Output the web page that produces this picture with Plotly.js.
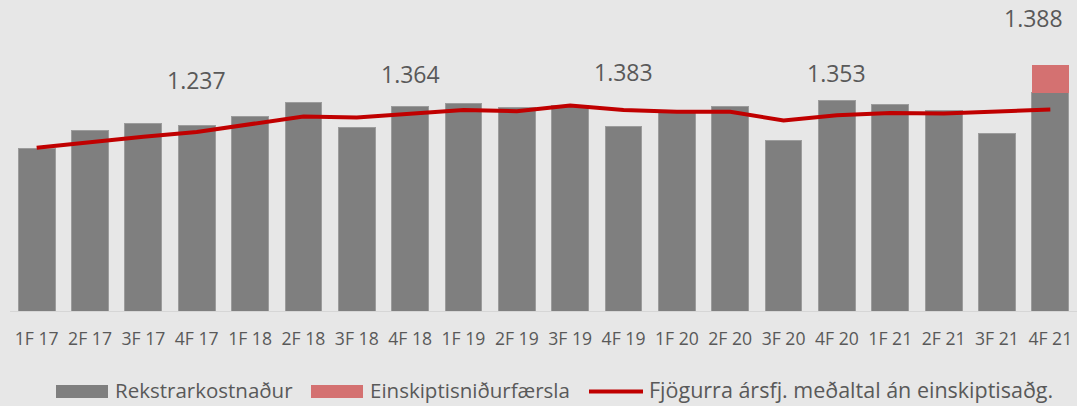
<!DOCTYPE html>
<html>
<head>
<meta charset="utf-8">
<script src="https://cdn.plot.ly/plotly-3.0.1.min.js"></script>
<style>
  html, body { margin: 0; padding: 0; background: #e7e7e7; }
  #chart { width: 1077px; height: 406px; }
</style>
</head>
<body>
<div id="chart"></div>
<script>
// ---- data ----
const categories = ['1F 17','2F 17','3F 17','4F 17','1F 18','2F 18','3F 18','4F 18','1F 19','2F 19',
                    '3F 19','4F 19','1F 20','2F 20','3F 20','4F 20','1F 21','2F 21','3F 21','4F 21'];
const rekstrarkostnadur = [280, 312, 324, 321, 335, 360, 316, 353, 358, 352,
                           354, 319, 343, 353, 294, 363, 357, 347, 307, 377];
const einskiptisnidurfaersla = [null, null, null, null, null, null, null, null, null, null,
                                null, null, null, null, null, null, null, null, null, 48];
const medaltal = [282, 292, 301, 309, 323, 336, 334, 341, 347, 345,
                  355, 347, 344, 344, 329, 338, 342, 341, 344, 348];
const seriesNames = ['Rekstrarkostnaður', 'Einskiptisniðurfærsla', 'Fjögurra ársfj. meðaltal án einskiptisaðg.'];
const annualLabels = ['1.237', '1.364', '1.383', '1.353', '1.388'];
const annualAt = ['4F 17', '4F 18', '4F 19', '4F 20', '4F 21'];

// ---- styles ----
const FONT = '"Open Sans", "Noto Sans", sans-serif';
const TXT = '#595959';
const GREY = '#7f7f7f';
const PINK = '#d47171';
const RED = '#c00000';

const traces = [
  { type: 'bar', x: categories, y: rekstrarkostnadur, name: seriesNames[0],
    marker: { color: GREY, line: { color: '#9c9c9c', width: 1 } }, hoverinfo: 'x+y' },
  { type: 'bar', x: categories, y: einskiptisnidurfaersla, name: seriesNames[1],
    marker: { color: PINK, line: { width: 0 } }, hoverinfo: 'x+y' },
  { type: 'scatter', mode: 'lines', x: categories, y: medaltal, name: seriesNames[2],
    line: { color: RED, width: 4 }, hoverinfo: 'x+y' }
];

// annual total labels (paper y, pixel shift per label)
const annY = [0.743, 0.762, 0.768, 0.765, 0.942];
const annShift = [0, 0, 0, 0, -17];
const annotations = annualLabels.map((t, i) => ({
  text: t, x: categories.indexOf(annualAt[i]), xref: 'x', y: annY[i], yref: 'paper',
  xshift: annShift[i], xanchor: 'center', yanchor: 'middle', showarrow: false,
  font: { family: FONT, size: 23, color: TXT }
}));

// custom legend (plot area spans px 10..1077 horizontally, 0..311 vertically)
const PX = px => (px - 10) / 1067;
const PY = py => (311 - py) / 311;
const shapes = [
  { type: 'rect', xref: 'paper', yref: 'paper', x0: PX(56), x1: PX(108), y0: PY(385), y1: PY(398),
    fillcolor: GREY, line: { width: 0 } },
  { type: 'rect', xref: 'paper', yref: 'paper', x0: PX(311), x1: PX(363), y0: PY(385), y1: PY(398),
    fillcolor: PINK, line: { width: 0 } },
  { type: 'line', xref: 'paper', yref: 'paper', x0: PX(589), x1: PX(643), y0: PY(391.5), y1: PY(391.5),
    line: { color: RED, width: 4 } }
];
const legX = [114, 369, 648];
const legSize = [20.5, 20.5, 21.5];
legX.forEach((px, i) => annotations.push({
  text: seriesNames[i], xref: 'paper', yref: 'paper', x: PX(px), y: PY(390),
  xanchor: 'left', yanchor: 'middle', showarrow: false, borderpad: 0,
  font: { family: FONT, size: legSize[i], color: TXT }
}));

const layout = {
  width: 1077, height: 406,
  margin: { l: 10, r: 0, t: 0, b: 95 },
  paper_bgcolor: '#e7e7e7', plot_bgcolor: '#e7e7e7',
  barmode: 'stack', bargap: 0.31,
  showlegend: false,
  font: { family: FONT, color: TXT },
  xaxis: {
    type: 'category', range: [-0.5, 19.5], showgrid: false, zeroline: false,
    showline: true, linecolor: '#d6d6d6', linewidth: 1, ticks: '',
    tickfont: { family: FONT, size: 17.6, color: TXT }, ticklabelstandoff: 12,
    fixedrange: true
  },
  yaxis: {
    range: [0, 537], visible: false, showgrid: false, zeroline: false, fixedrange: true
  },
  annotations: annotations,
  shapes: shapes
};

Plotly.newPlot('chart', traces, layout, { displayModeBar: false, staticPlot: true });
</script>
</body>
</html>
